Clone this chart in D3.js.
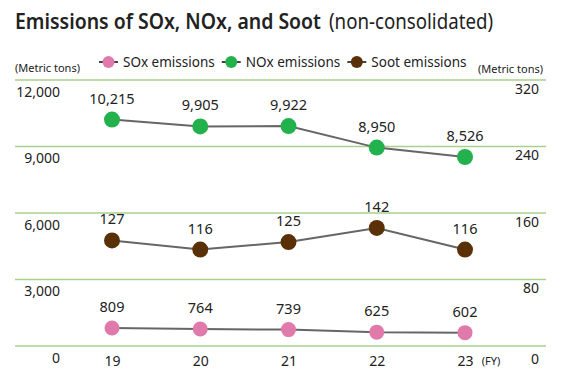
<!DOCTYPE html>
<html><head><meta charset="utf-8">
<script src="https://cdn.jsdelivr.net/npm/d3@7"></script>
<style>
body{margin:0;background:#fff;}
svg{display:block;font-family:"Noto Sans",sans-serif;}
</style></head>
<body><svg id="c" width="565" height="380"></svg>
<script>
const years = ["19","20","21","22","23"];
const soxValues = [809,764,739,625,602];
const noxValues = [10215,9905,9922,8950,8526];
const sootValues = [127,116,125,142,116];
const leftTicks = [0,3000,6000,9000,12000];
const rightTicks = [0,80,160,240,320];
const seriesNames = ["SOx emissions","NOx emissions","Soot emissions"];
const seriesColors = ["#e07aab","#22b14c","#5a3008"];

const svg = d3.select("#c");
const textColor = "#222";

const x = d3.scalePoint().domain(years).range([112,465]);
const yL = d3.scaleLinear().domain([0,12000]).range([346,80]);
const yR = d3.scaleLinear().domain([0,320]).range([346,80]);

// Title
svg.append("text").attr("x",15).attr("y",29).attr("fill",textColor).style("font-size","21px")
  .attr("font-weight",600).attr("textLength",306).attr("lengthAdjust","spacingAndGlyphs")
  .text("Emissions of SOx, NOx, and Soot");
svg.append("text").attr("x",329).attr("y",29).attr("fill",textColor).style("font-size","21px")
  .attr("font-weight",400).attr("textLength",164).attr("lengthAdjust","spacingAndGlyphs")
  .text("(non-consolidated)");

// gridlines
svg.append("g").selectAll("line").data(leftTicks).join("line")
  .attr("x1",15).attr("x2",546)
  .attr("y1",d=>yL(d)).attr("y2",d=>yL(d))
  .attr("stroke","#a9d18e").attr("stroke-width",1.6);

// left axis
const gl = svg.append("g").attr("transform","translate(60,0)")
  .call(d3.axisLeft(yL).tickValues(leftTicks).tickFormat(d3.format(",")).tickSize(0).tickPadding(0));
gl.select(".domain").remove();
gl.selectAll("text").attr("dy",16).attr("fill",textColor).style("font-size","14px").style("font-family","'Noto Sans',sans-serif");

// right axis
const gr = svg.append("g").attr("transform","translate(539,0)")
  .call(d3.axisRight(yR).tickValues(rightTicks).tickSize(0).tickPadding(0));
gr.select(".domain").remove();
gr.selectAll("text").attr("text-anchor","end").attr("dy",d=>d===0?17:13).attr("fill",textColor).style("font-size","14px").style("font-family","'Noto Sans',sans-serif");

// x axis
const gx = svg.append("g").attr("transform","translate(0,346)")
  .call(d3.axisBottom(x).tickSize(0).tickPadding(0));
gx.select(".domain").remove();
gx.selectAll("text").attr("dy",20).attr("fill",textColor).style("font-size","14px").style("font-family","'Noto Sans',sans-serif");
svg.append("text").attr("x",491).attr("y",365).attr("text-anchor","middle").attr("fill",textColor).style("font-size","11px").text("(FY)");

// unit labels
svg.append("text").attr("x",15).attr("y",72).attr("fill",textColor).style("font-size","11px").text("(Metric tons)");
svg.append("text").attr("x",543).attr("y",73).attr("text-anchor","end").attr("fill",textColor).style("font-size","11px").text("(Metric tons)");

// series
const series = [
  {vals: soxValues, y: yL, color: seriesColors[0], r: 7.5},
  {vals: noxValues, y: yL, color: seriesColors[1], r: 8},
  {vals: sootValues, y: yR, color: seriesColors[2], r: 8}
];
const line = (ys) => d3.line().x((d,i)=>x(years[i])).y(d=>ys(d));
series.forEach(s=>{
  const g = svg.append("g");
  g.append("path").datum(s.vals).attr("d",line(s.y)).attr("fill","none").attr("stroke","#666").attr("stroke-width",2);
  g.selectAll("circle").data(s.vals).join("circle")
    .attr("cx",(d,i)=>x(years[i])).attr("cy",d=>s.y(d)).attr("r",s.r).attr("fill",s.color);
  g.selectAll("text").data(s.vals).join("text")
    .attr("x",(d,i)=>x(years[i])).attr("y",d=>s.y(d)-16)
    .attr("text-anchor","middle").attr("fill",textColor).style("font-size","14.5px")
    .text(d=>d3.format(",")(d));
});

// legend
let lx = 99;
seriesNames.forEach((n,i)=>{
  const g = svg.append("g");
  g.append("line").attr("x1",lx).attr("x2",lx+19).attr("y1",62).attr("y2",62).attr("stroke","#444").attr("stroke-width",2);
  g.append("circle").attr("cx",lx+9.5).attr("cy",62).attr("r",6).attr("fill",seriesColors[i]);
  const t = g.append("text").attr("x",lx+24).attr("y",67).attr("fill",textColor).style("font-size","13.5px").text(n);
  lx = lx + 24 + t.node().getComputedTextLength() + 7;
});
</script></body></html>
